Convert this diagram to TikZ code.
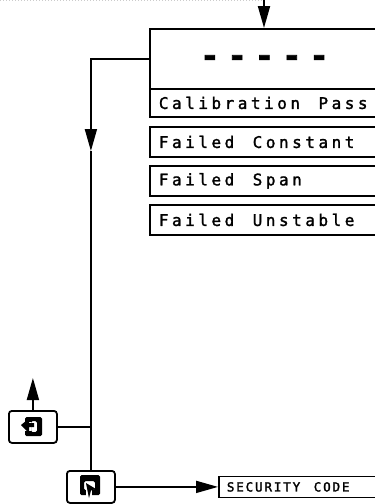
\documentclass[tikz,border=0pt]{standalone}
\usepackage{fontspec}
\usetikzlibrary{arrows.meta}
\setmonofont{DejaVu Sans Mono}
\newfontfamily\lcdfont[LetterSpace=22,FakeBold=1.6]{DejaVu Sans Mono}
\newfontfamily\tagfont[LetterSpace=15,FakeBold=2]{DejaVu Sans Mono}
\newfontfamily\dashfont[LetterSpace=25,FakeBold=2]{DejaVu Sans Mono Bold}
\newcommand\lcdtext{\lcdfont\fontsize{16pt}{16pt}\selectfont}
\newcommand\tagtext{\tagfont\fontsize{12.5pt}{12.5pt}\selectfont}
\newcommand\lcdgap{\hspace{13.1pt}}
\newcommand\taggap{\hspace{9.4pt}}
\tikzset{
	menubox/.style={draw, line width=1.8pt, anchor=north west, minimum width=228pt, text width=212pt, inner xsep=9pt, inner ysep=0pt, align=left, font=\lcdtext},
	keybtn/.style={draw, line width=1.8pt, rounded corners=3pt, minimum width=48pt, minimum height=32pt, inner sep=0pt, anchor=north west},
	flow/.style={line width=1.8pt},
	tip/.style={-{Triangle[length=22pt,width=12pt]}},
}
\begin{document}
\begin{tikzpicture}[x=1pt,y=-1pt]
	\useasboundingbox (0,0) rectangle (375,504);
	\clip (0,0) rectangle (375,504);

	\draw[gray!40, dotted, line width=1pt] (0,0) -- (264,0);

	\node[menubox, minimum height=60pt] (display) at (149,28) {};
	\node[font=\dashfont\fontsize{32pt}{32pt}\selectfont] (dashes) at (264.5,61) {-----};
	\node[menubox, minimum height=28pt] (pass) at (149,88) {Calibration \lcdgap Pass};
	\node[menubox, minimum height=30pt] (constant) at (149,126) {Failed \lcdgap Constant};
	\node[menubox, minimum height=30pt] (span) at (149,165) {Failed \lcdgap Span};
	\node[menubox, minimum height=30pt] (unstable) at (149,204) {Failed \lcdgap Unstable};

	\node[keybtn] (escbtn) at (8,410) {};
	\node[keybtn] (secbtn) at (66,470) {};
	\node[menubox, minimum height=21pt, font=\tagtext, inner xsep=5pt] (security) at (218,475.5) {SECURITY \taggap CODE};

	\coordinate (entry) at (264,0);
	\coordinate (bend) at (secbtn.north |- display.west);
	\coordinate (midtip) at (secbtn.north |- 0,151);
	\coordinate (junction) at (secbtn.north |- escbtn.east);
	\coordinate (exit) at (escbtn.north |- 0,378);

	\draw[flow, tip] (entry) -- (entry |- display.north);
	\draw[flow, tip] (display.west) -- (bend) -- (midtip);
	\draw[flow] (midtip) -- (secbtn.north);
	\draw[flow] (escbtn.east) -- (junction);
	\draw[flow, tip] (escbtn.north) -- (exit);
	\draw[flow, tip] (secbtn.east) -- (secbtn.east -| security.west);

	% key glyphs
	\fill[rounded corners=1.5pt, even odd rule] (25,417) rectangle (42,436) (31,421) rectangle (37,432);
	\fill[white] (22,422) rectangle (31,431);
	\fill (21,425) -- (29,418.5) -- (29,423) -- (34,423) -- (34,427) -- (29,427) -- (29,433) -- cycle;
	\fill[rounded corners=1.5pt, even odd rule] (80,475) rectangle (100,495) (84,481) rectangle (95,490);
	\fill[white] (86,490) rectangle (92,498);
	\fill (86,483) -- (96,489) -- (91,490.5) -- (89,498) -- cycle;
\end{tikzpicture}
\end{document}
